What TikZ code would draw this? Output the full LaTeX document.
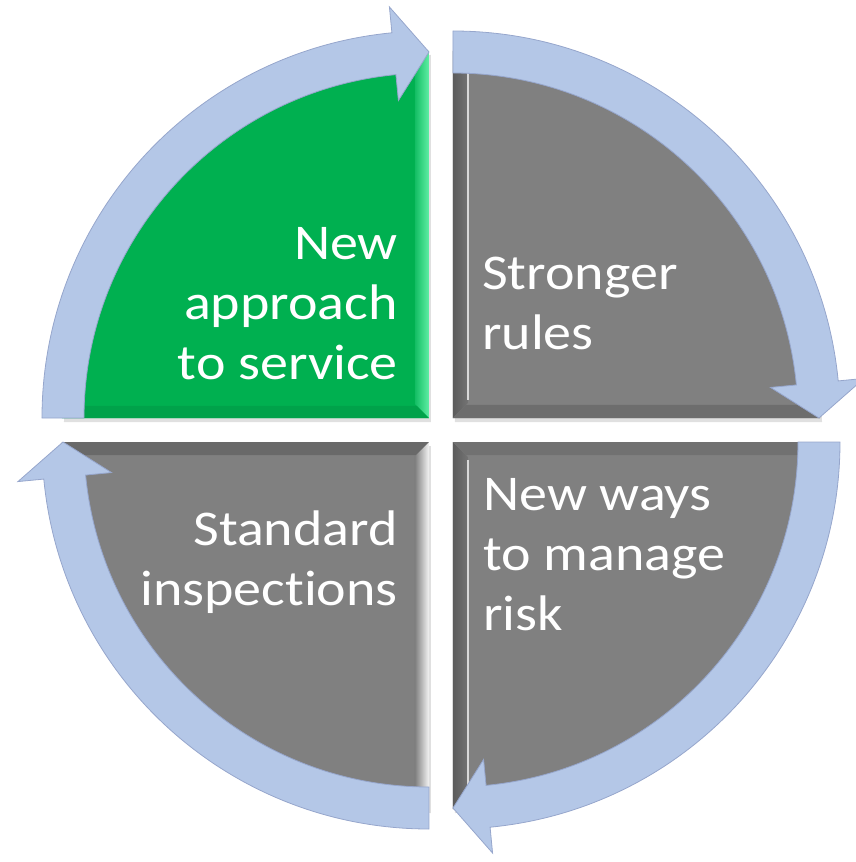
\documentclass[tikz,border=0pt]{standalone}
\usepackage{fontspec}
\setmainfont{Carlito}[FakeStretch=1.12, Ligatures=NoCommon]
\usetikzlibrary{positioning}

\definecolor{arrowblue}{RGB}{180,199,231}
\definecolor{arrowline}{RGB}{150,166,204}
\definecolor{quadgreen}{RGB}{0,176,80}
\definecolor{quadgray}{RGB}{128,128,128}
\definecolor{greenlo}{RGB}{20,190,100}
\definecolor{greenhi}{RGB}{95,238,165}
\definecolor{greendark}{RGB}{0,162,74}

\begin{document}
\begin{tikzpicture}[x=1pt, y=1pt]
\tikzset{
    cyclearrow/.style={fill=arrowblue, draw=arrowline, line width=0.8pt, line join=miter},
    quadlabel/.style={text=white, font=\fontsize{50}{60}\selectfont, inner sep=0pt},
    quadshadow/.style={fill=black, opacity=0.12},
    hilite/.style={draw=white!70!gray, line width=2.5pt}
}
\useasboundingbox (-441,-432) rectangle (415,430);

% the four quarters, with a faint shadow under each
\foreach \cx/\cy/\a/\col in {-12/12/180/quadgreen, 12/12/90/quadgray, 12/-12/0/quadgray, -12/-12/-90/quadgray}{
  \fill[quadshadow] (\cx+2,\cy-4) -- ++(\a:367pt) arc[start angle=\a, end angle=\a-90, radius=367pt] -- cycle;
  \fill[\col] (\cx,\cy) -- ++(\a:367pt) arc[start angle=\a, end angle=\a-90, radius=367pt] -- cycle;
}

% bevelled edges along the straight sides
\shade[left color=greenlo, right color=greenhi] (-26,26) -- (-12,12) -- (-12,379) -- (-26,379) -- cycle;
\fill[greendark] (-12,12) -- (-24,24) -- (-379,24) -- (-379,12) -- cycle;

\shade[left color=quadgray!72!black, right color=quadgray!90!black] (12,12) -- (27,27) -- (27,379) -- (12,379) -- cycle;
\fill[quadgray!85!black] (12,12) -- (25,25) -- (379,25) -- (379,12) -- cycle;
\draw[hilite] (27,30) -- (27,370);

\shade[left color=quadgray!72!black, right color=quadgray!90!black] (12,-12) -- (27,-27) -- (27,-379) -- (12,-379) -- cycle;
\fill[quadgray!88!black] (12,-12) -- (25,-25) -- (379,-25) -- (379,-12) -- cycle;
\draw[hilite] (27,-30) -- (27,-370);

\shade[left color=quadgray, right color=white!92!gray] (-12,-12) -- (-26,-26) -- (-26,-379) -- (-12,-379) -- cycle;
\fill[quadgray!82!black] (-12,-12) -- (-25,-25) -- (-379,-25) -- (-379,-12) -- cycle;

% curved arrows, clockwise round the circle
\foreach \cx/\cy/\a in {-12/12/180, 12/12/90, 12/-12/0, -12/-12/-90}{
  \begin{scope}[shift={(\cx,\cy)}]
    \draw[cyclearrow] (\a:387pt) arc[start angle=\a, end angle=\a-84.5, radius=387pt]
        -- (\a-84.5:413pt) -- (\a-90:366pt) -- (\a-84.5:319pt) -- (\a-84.5:345pt)
        arc[start angle=\a-84.5, end angle=\a, radius=345pt] -- cycle;
  \end{scope}
}

% labels (base = baseline of the last line)
\node[quadlabel, anchor=base east, align=right] (service) at (-43,50) {New\\approach\\to service};
\node[quadlabel, anchor=base west, align=left] (rules) at (41,80) {Stronger\\rules};
\node[quadlabel, anchor=base west, align=left] (risk) at (42,-200) {New ways\\to manage\\risk};
\node[quadlabel, anchor=base east, align=right] (inspections) at (-43,-175) {Standard\\inspections};

\end{tikzpicture}
\end{document}
